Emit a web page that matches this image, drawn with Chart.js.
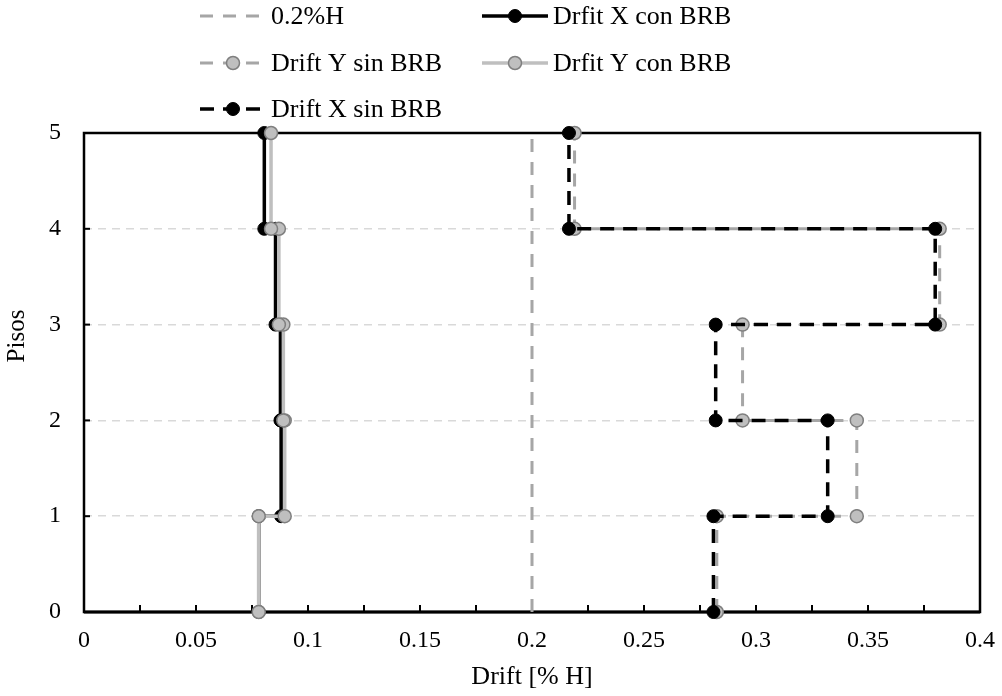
<!DOCTYPE html>
<html lang="es">
<head>
<meta charset="utf-8">
<title>Drift por piso</title>
<script src="https://cdn.jsdelivr.net/npm/chart.js@4.4.1/dist/chart.umd.min.js"></script>
<style>
  html, body { margin: 0; padding: 0; background: #fff; }
  #grafico { display: block; }
</style>
</head>
<body>
<canvas id="grafico" width="1002" height="696"></canvas>
<script>
// Pisos en escalón: cada entrepiso va de un piso al siguiente
const pisos = [0, 1, 1, 2, 2, 3, 3, 4, 4, 5];

// Drift de entrepiso (% H) en cada vértice del escalón
const driftXconBRB = [0.078, 0.078, 0.088, 0.088, 0.0877, 0.0877, 0.0855, 0.0855, 0.0805, 0.0805];
const driftYconBRB = [0.078, 0.078, 0.0896, 0.0896, 0.089, 0.089, 0.087, 0.087, 0.0835, 0.0835];
const driftXsinBRB = [0.281, 0.281, 0.332, 0.332, 0.282, 0.282, 0.380, 0.380, 0.2165, 0.2165];
const driftYsinBRB = [0.2825, 0.2825, 0.345, 0.345, 0.294, 0.294, 0.382, 0.382, 0.219, 0.219];

// Límite 0.2%H
const limiteX = [0.2, 0.2];
const limiteY = [0, 5];

const etiquetasX = ['0', '0.05', '0.1', '0.15', '0.2', '0.25', '0.3', '0.35', '0.4'];
const etiquetasY = ['0', '1', '2', '3', '4', '5'];

const fuente = 'Liberation Serif, Times New Roman, serif';
const gris = '#a6a6a6';
const grisClaro = '#bfbfbf';

const puntos = (xs, ys) => xs.map((x, i) => ({ x: x, y: ys[i] }));

// Marco del área de gráfico y marcas de división hacia adentro
const marco = {
    id: 'marco',
    beforeDatasetsDraw(chart) {
        const { ctx, chartArea: a, scales } = chart;
        ctx.save();
        ctx.strokeStyle = '#000';
        ctx.lineWidth = 2;
        scales.x.ticks.forEach(t => {
            const px = scales.x.getPixelForValue(t.value);
            ctx.beginPath();
            ctx.moveTo(px, a.bottom);
            ctx.lineTo(px, a.bottom - 7);
            ctx.stroke();
        });
        scales.y.ticks.forEach(t => {
            const py = scales.y.getPixelForValue(t.value);
            ctx.beginPath();
            ctx.moveTo(a.left, py);
            ctx.lineTo(a.left + 6, py);
            ctx.stroke();
        });
        ctx.lineWidth = 2.5;
        ctx.strokeRect(a.left, a.top, a.right - a.left, a.bottom - a.top);
        ctx.lineWidth = 3;
        ctx.beginPath();
        ctx.moveTo(a.left, a.bottom);
        ctx.lineTo(a.right, a.bottom);
        ctx.stroke();
        ctx.restore();
    }
};

// Leyenda en dos columnas y título del eje Y
const leyenda = {
    id: 'leyenda',
    afterDraw(chart) {
        const { ctx } = chart;
        const columnas = [200, 482];
        const filas = [16, 63, 109];
        const largo = 66;
        ctx.save();
        chart.data.datasets.forEach((ds, i) => {
            const x0 = columnas[i % 2];
            const y = filas[Math.floor(i / 2)];
            ctx.strokeStyle = ds.borderColor;
            ctx.lineWidth = ds.borderWidth;
            ctx.setLineDash(ds.borderDash || []);
            ctx.beginPath();
            ctx.moveTo(x0, y);
            ctx.lineTo(x0 + largo, y);
            ctx.stroke();
            ctx.setLineDash([]);
            if (ds.pointRadius > 0) {
                ctx.beginPath();
                ctx.arc(x0 + largo / 2, y, ds.pointRadius, 0, Math.PI * 2);
                ctx.fillStyle = ds.pointBackgroundColor;
                ctx.fill();
                ctx.lineWidth = ds.pointBorderWidth;
                ctx.strokeStyle = ds.pointBorderColor;
                ctx.stroke();
            }
            ctx.fillStyle = '#000';
            ctx.font = '26px ' + fuente;
            ctx.textBaseline = 'middle';
            ctx.textAlign = 'left';
            ctx.fillText(ds.label, x0 + largo + 5, y + 1);
        });
        ctx.translate(17, 336);
        ctx.rotate(-Math.PI / 2);
        ctx.font = '25px ' + fuente;
        ctx.textAlign = 'center';
        ctx.textBaseline = 'middle';
        ctx.fillText('Pisos', 0, 0);
        ctx.restore();
    }
};

new Chart(document.getElementById('grafico'), {
    type: 'scatter',
    data: {
        datasets: [
            {
                label: '0.2%H',
                data: puntos(limiteX, limiteY),
                showLine: true,
                borderColor: gris,
                borderWidth: 3,
                borderDash: [13, 10],
                pointRadius: 0,
                order: 4
            },
            {
                label: 'Drfit X con BRB',
                data: puntos(driftXconBRB, pisos),
                showLine: true,
                borderColor: '#000',
                borderWidth: 3.5,
                pointRadius: 6.5,
                pointBackgroundColor: '#000',
                pointBorderColor: '#000',
                pointBorderWidth: 1,
                order: 3
            },
            {
                label: 'Drift Y sin BRB',
                data: puntos(driftYsinBRB, pisos),
                showLine: true,
                borderColor: gris,
                borderWidth: 3,
                borderDash: [13, 10],
                pointRadius: 6.5,
                pointBackgroundColor: grisClaro,
                pointBorderColor: '#7f7f7f',
                pointBorderWidth: 1.5,
                order: 2
            },
            {
                label: 'Drfit Y con BRB',
                data: puntos(driftYconBRB, pisos),
                showLine: true,
                borderColor: grisClaro,
                borderWidth: 3.5,
                pointRadius: 6.5,
                pointBackgroundColor: grisClaro,
                pointBorderColor: '#7f7f7f',
                pointBorderWidth: 1.5,
                order: 1
            },
            {
                label: 'Drift X sin BRB',
                data: puntos(driftXsinBRB, pisos),
                showLine: true,
                borderColor: '#000',
                borderWidth: 3.5,
                borderDash: [14, 9],
                pointRadius: 6.5,
                pointBackgroundColor: '#000',
                pointBorderColor: '#000',
                pointBorderWidth: 1,
                order: 0
            }
        ].map(ds => Object.assign(ds, { tension: 0, clip: false, pointHoverRadius: ds.pointRadius }))
    },
    options: {
        responsive: false,
        animation: false,
        events: [],
        layout: { padding: { top: 133, right: 22, left: 0, bottom: 0 } },
        plugins: {
            legend: { display: false },
            tooltip: { enabled: false }
        },
        scales: {
            x: {
                type: 'linear',
                min: 0,
                max: 0.4,
                grid: { display: false, drawTicks: false },
                border: { display: false },
                ticks: {
                    stepSize: 0.025,
                    autoSkip: false,
                    maxRotation: 0,
                    padding: 14,
                    color: '#000',
                    font: { family: fuente, size: 24 },
                    callback: (v, i) => (i % 2 === 0 ? etiquetasX[i / 2] : '')
                },
                title: {
                    display: true,
                    text: 'Drift [% H]',
                    color: '#000',
                    font: { family: fuente, size: 26 },
                    padding: { top: 0, bottom: 3 }
                },
                afterFit: s => {
                    s.height = 84;
                    s.paddingLeft = 0;
                    s.paddingRight = 0;
                }
            },
            y: {
                type: 'linear',
                min: 0,
                max: 5,
                grid: { color: '#d9d9d9', lineWidth: 1.5, drawTicks: false },
                border: { display: false, dash: [8, 6] },
                ticks: {
                    stepSize: 1,
                    padding: 23,
                    color: '#000',
                    font: { family: fuente, size: 24 },
                    callback: (v, i) => etiquetasY[i]
                },
                afterFit: s => {
                    s.width = 84;
                    s.paddingTop = 0;
                    s.paddingBottom = 0;
                }
            }
        }
    },
    plugins: [marco, leyenda]
});
</script>
</body>
</html>
